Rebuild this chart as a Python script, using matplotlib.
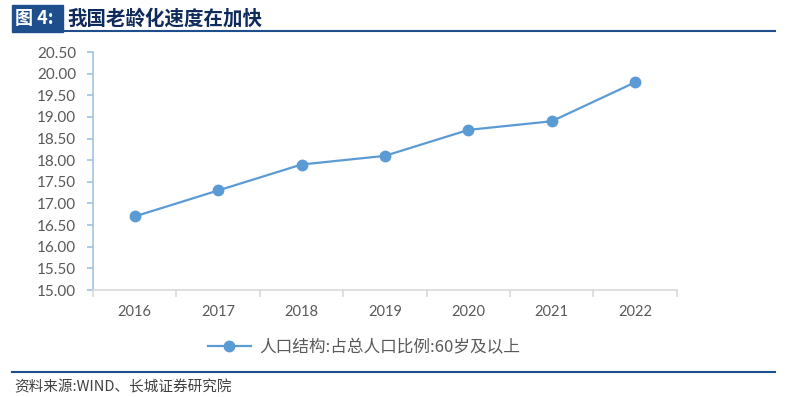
import matplotlib.pyplot as plt
from matplotlib.lines import Line2D

years = ["2016", "2017", "2018", "2019", "2020", "2021", "2022"]
elderly_share = [16.7, 17.3, 17.9, 18.1, 18.7, 18.9, 19.8]
y_ticks = [15.0, 15.5, 16.0, 16.5, 17.0, 17.5, 18.0, 18.5, 19.0, 19.5, 20.0, 20.5]

series_name = "人口结构:占总人口比例:60岁及以上"
title_tag = "图 4:"
title_text = "我国老龄化速度在加快"
source_text = "资料来源:WIND、长城证券研究院"

cjk = ["Noto Sans CJK SC", "DejaVu Sans"]
blue = "#5b9bd5"
navy = "#1f4e8c"

fig = plt.figure(figsize=(7.88, 3.97), dpi=100)
ax = fig.add_axes([0.118, 0.2695, 0.741, 0.5995])

x = list(range(len(years)))
ax.plot(x, elderly_share, color=blue, lw=1.6, marker="o", markersize=7.5)

ax.set_xlim(-0.5, len(years) - 0.5)
ax.set_ylim(15, 20.5)
ax.set_yticks(y_ticks)
ax.set_yticklabels([f"{v:.2f}" for v in y_ticks])
ax.set_xticks(x)
ax.set_xticklabels(years)
ax.set_xticks([i - 0.5 for i in range(len(years) + 1)], minor=True)

for s in ["top", "right"]:
    ax.spines[s].set_visible(False)
ax.spines["left"].set_color("#9dc3e6")
ax.spines["bottom"].set_color("#d9d9d9")
ax.spines["left"].set_linewidth(1.2)
ax.spines["bottom"].set_linewidth(1.2)

ax.tick_params(axis="y", direction="out", length=4, color="#9dc3e6", width=1.2,
               labelsize=11, labelcolor="#595959", pad=8)
ax.tick_params(axis="x", which="major", length=0, labelsize=10.5,
               labelcolor="#595959", pad=11)
ax.tick_params(axis="x", which="minor", direction="out", length=5,
               color="#d9d9d9", width=1.2)
for lab in ax.get_xticklabels() + ax.get_yticklabels():
    lab.set_family("Lato")

# legend
handle = Line2D([0], [0], color=blue, lw=1.6, marker="o", markersize=7.5)
fig.legend([handle], [series_name], loc="center", bbox_to_anchor=(0.462, 0.125),
           frameon=False, handlelength=2.6, handletextpad=0.5,
           prop={"family": cjk, "size": 12}, labelcolor="#595959")

# title block
fig.patches.append(plt.Rectangle((12 / 788, 1 - 32 / 397), 51 / 788, 27 / 397,
                                 transform=fig.transFigure, color=navy, zorder=1))
fig.text(15 / 788, 1 - 19 / 397, title_tag, color="white", fontsize=13,
         fontweight="bold", family=cjk, va="center")
fig.text(67 / 788, 1 - 19 / 397, title_text, color="#0f2a5c", fontsize=14,
         fontweight="bold", family=cjk, va="center")
fig.add_artist(Line2D([63 / 788, 775 / 788], [1 - 31 / 397] * 2,
                      transform=fig.transFigure, color=navy, lw=1.5))

# source line
fig.add_artist(Line2D([12 / 788, 775 / 788], [1 - 372 / 397] * 2,
                      transform=fig.transFigure, color=navy, lw=1.5))
fig.text(14 / 788, 1 - 387 / 397, source_text, color="#404040", fontsize=10.5,
         style="italic", family=cjk, va="center")

fig.savefig("out.png", dpi=100)
